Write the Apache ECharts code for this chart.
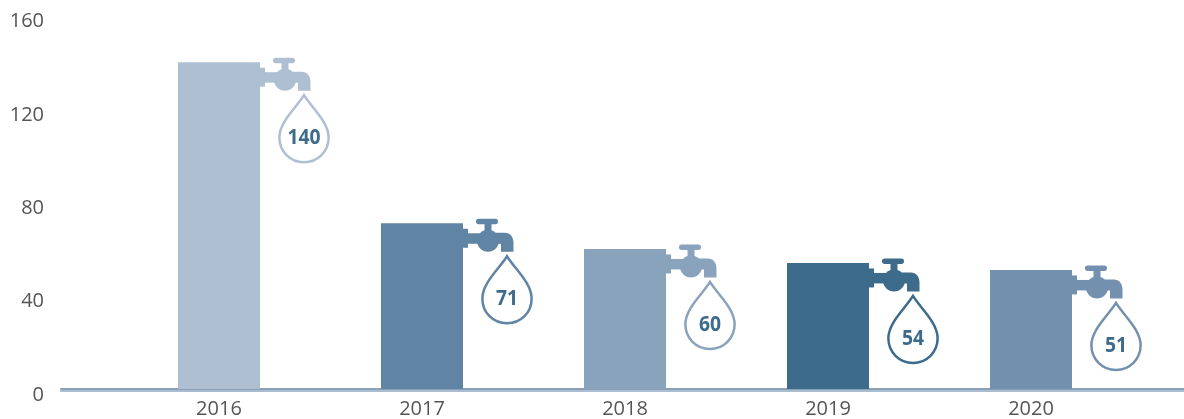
<!DOCTYPE html>
<html>
<head>
<meta charset="utf-8">
<style>
  html, body { margin: 0; padding: 0; background: #fff; }
  #chart { width: 1184px; height: 419px; }
</style>
</head>
<body>
<div id="chart"></div>
<script src="https://cdn.jsdelivr.net/npm/echarts@6/dist/echarts.min.js"></script>
<script>
var years = [2016, 2017, 2018, 2019, 2020];
var values = [140, 71, 60, 54, 51];
var yTicks = [0, 40, 80, 120, 160];

var barColors = ['#aebfd2', '#6085a4', '#88a3bb', '#3d6b8c', '#7391ae'];
var textColor = '#3d6b8c';
var barWidth = 82;

var myChart = echarts.init(document.getElementById('chart'));

// tap and drop, drawn from the top right corner of each bar
function renderTap(params, api) {
  var i = params.dataIndex;
  var top = api.coord([api.value(0), api.value(1)]);
  var color = barColors[i];
  return {
    type: 'group',
    x: top[0] + barWidth / 2,
    y: top[1],
    children: [
      { type: 'rect', shape: { x: -1, y: 5.5, width: 6, height: 19 }, style: { fill: color } },
      { type: 'rect', shape: { x: 5, y: 10, width: 14, height: 10.5 }, style: { fill: color } },
      { type: 'circle', shape: { cx: 25, cy: 17.5, r: 11 }, style: { fill: color } },
      { type: 'rect', shape: { x: 21.5, y: 0.5, width: 7, height: 10 }, style: { fill: color } },
      { type: 'rect', shape: { x: 13, y: -4.5, width: 22, height: 5.5, r: 2.7 }, style: { fill: color } },
      {
        type: 'path',
        shape: {
          pathData: 'M25 10 H42 C47 10 50.5 14 50.5 20 V29 H38 V21 H25 Z',
          x: 25, y: 9.5, width: 25.5, height: 19
        },
        style: { fill: color }
      },
      {
        type: 'path',
        shape: {
          pathData: 'M25 0 C17 13 0 27 0 43 C0 57 11 68 25 68 C39 68 50 57 50 43 C50 27 33 13 25 0 Z',
          x: 19, y: 33, width: 50, height: 67
        },
        style: { fill: '#fff', stroke: color, lineWidth: 2.5 }
      },
      {
        type: 'text',
        x: 44,
        y: 76,
        scaleX: 0.92,
        style: {
          text: String(api.value(1)),
          x: 0,
          y: 0,
          align: 'center',
          verticalAlign: 'middle',
          fontFamily: '"Open Sans"',
          fontWeight: 'bold',
          fontSize: 21,
          fill: textColor
        }
      }
    ]
  };
}

myChart.setOption({
  animation: false,
  backgroundColor: '#fff',
  grid: { left: 61, right: 0, top: 15.5, bottom: 30, outerBoundsMode: 'none' },
  xAxis: {
    type: 'value',
    min: 2015.2217,
    max: 2020.7537,
    splitLine: { show: false },
    axisTick: { show: false },
    axisLine: {
      show: true,
      lineStyle: { color: '#8d9fb2', width: 2, shadowColor: '#a9bdd2', shadowOffsetY: 2, shadowBlur: 0 }
    },
    axisLabel: {
      customValues: years,
      margin: 10,
      color: '#555555',
      fontFamily: '"Open Sans"',
      fontSize: 20,
      formatter: function (v) { return String(v); }
    }
  },
  yAxis: {
    type: 'value',
    min: yTicks[0],
    max: yTicks[yTicks.length - 1],
    interval: 40,
    splitLine: { show: false },
    axisTick: { show: false },
    axisLine: { show: false },
    axisLabel: {
      margin: 17,
      verticalAlign: 'top',
      lineHeight: 12,
      color: '#555555',
      fontFamily: '"Open Sans"',
      fontSize: 20
    }
  },
  series: [
    {
      type: 'bar',
      barWidth: barWidth,
      data: years.map(function (y, i) {
        return { value: [y, values[i]], itemStyle: { color: barColors[i] } };
      })
    },
    {
      type: 'custom',
      renderItem: renderTap,
      encode: { x: 0, y: 1 },
      clip: false,
      data: years.map(function (y, i) { return [y, values[i]]; })
    }
  ]
});
</script>
</body>
</html>
